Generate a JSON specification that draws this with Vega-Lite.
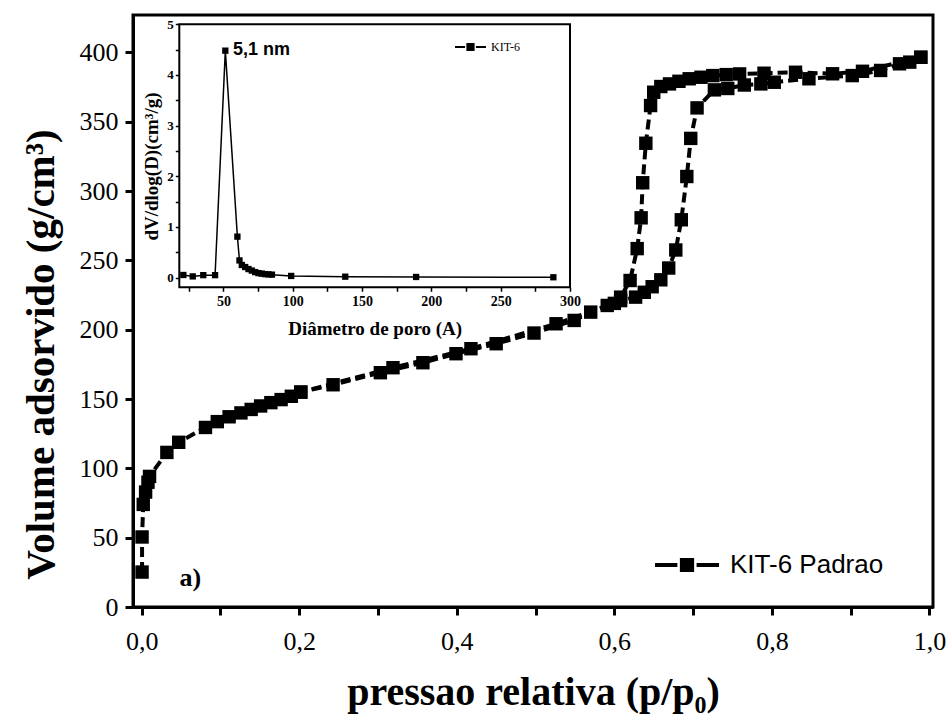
{
  "$schema": "https://vega.github.io/schema/vega-lite/v6.json",
  "width": 800,
  "height": 592,
  "autosize": "none",
  "padding": {"left": 133, "top": 15, "right": 17, "bottom": 113},
  "background": "white",
  "config": {
    "view": {"stroke": "black", "strokeWidth": 3},
    "axis": {"grid": false, "domainColor": "black", "tickColor": "black", "labelColor": "black", "titleColor": "black", "labelOverlap": false, "labelFlush": false}
  },
  "datasets": {
    "iso": [
      {"b": "ads", "i": 1, "p": 0.0005, "v": 25.2},
      {"b": "ads", "i": 2, "p": 0.0005, "v": 50.5},
      {"b": "ads", "i": 3, "p": 0.002, "v": 74},
      {"b": "ads", "i": 4, "p": 0.005, "v": 82.9},
      {"b": "ads", "i": 5, "p": 0.008, "v": 90},
      {"b": "ads", "i": 6, "p": 0.01, "v": 94.2},
      {"b": "ads", "i": 7, "p": 0.032, "v": 111.5},
      {"b": "ads", "i": 8, "p": 0.047, "v": 118.8},
      {"b": "ads", "i": 9, "p": 0.081, "v": 129.5},
      {"b": "ads", "i": 10, "p": 0.096, "v": 133.7},
      {"b": "ads", "i": 11, "p": 0.111, "v": 137.2},
      {"b": "ads", "i": 12, "p": 0.126, "v": 140},
      {"b": "ads", "i": 13, "p": 0.139, "v": 142.5},
      {"b": "ads", "i": 14, "p": 0.151, "v": 145},
      {"b": "ads", "i": 15, "p": 0.164, "v": 147.4},
      {"b": "ads", "i": 16, "p": 0.177, "v": 149.6},
      {"b": "ads", "i": 17, "p": 0.19, "v": 152},
      {"b": "ads", "i": 18, "p": 0.202, "v": 155},
      {"b": "ads", "i": 19, "p": 0.243, "v": 160.3},
      {"b": "ads", "i": 20, "p": 0.303, "v": 169},
      {"b": "ads", "i": 21, "p": 0.357, "v": 176.2},
      {"b": "ads", "i": 22, "p": 0.399, "v": 182.7},
      {"b": "ads", "i": 23, "p": 0.45, "v": 189.9},
      {"b": "ads", "i": 24, "p": 0.498, "v": 197.6},
      {"b": "ads", "i": 25, "p": 0.549, "v": 206.7},
      {"b": "ads", "i": 26, "p": 0.57, "v": 212.7},
      {"b": "ads", "i": 27, "p": 0.591, "v": 217.5},
      {"b": "ads", "i": 28, "p": 0.608, "v": 221},
      {"b": "ads", "i": 29, "p": 0.627, "v": 223.5},
      {"b": "ads", "i": 30, "p": 0.638, "v": 227},
      {"b": "ads", "i": 31, "p": 0.648, "v": 231},
      {"b": "ads", "i": 32, "p": 0.659, "v": 236},
      {"b": "ads", "i": 33, "p": 0.669, "v": 244.5},
      {"b": "ads", "i": 34, "p": 0.678, "v": 257.5},
      {"b": "ads", "i": 35, "p": 0.685, "v": 279.3},
      {"b": "ads", "i": 36, "p": 0.692, "v": 310.5},
      {"b": "ads", "i": 37, "p": 0.697, "v": 338},
      {"b": "ads", "i": 38, "p": 0.705, "v": 360},
      {"b": "ads", "i": 39, "p": 0.727, "v": 373},
      {"b": "ads", "i": 40, "p": 0.744, "v": 374},
      {"b": "ads", "i": 41, "p": 0.765, "v": 376.5},
      {"b": "ads", "i": 42, "p": 0.786, "v": 377.3},
      {"b": "ads", "i": 43, "p": 0.803, "v": 378.5},
      {"b": "ads", "i": 44, "p": 0.847, "v": 381},
      {"b": "ads", "i": 45, "p": 0.902, "v": 383.3},
      {"b": "ads", "i": 46, "p": 0.938, "v": 387},
      {"b": "ads", "i": 47, "p": 0.962, "v": 391.8},
      {"b": "ads", "i": 48, "p": 0.975, "v": 393},
      {"b": "ads", "i": 49, "p": 0.989, "v": 396.5},
      {"b": "des", "i": 1, "p": 0.989, "v": 396.5},
      {"b": "des", "i": 2, "p": 0.915, "v": 386.4},
      {"b": "des", "i": 3, "p": 0.877, "v": 384.6},
      {"b": "des", "i": 4, "p": 0.83, "v": 385.7},
      {"b": "des", "i": 5, "p": 0.79, "v": 385},
      {"b": "des", "i": 6, "p": 0.759, "v": 384.5},
      {"b": "des", "i": 7, "p": 0.742, "v": 384},
      {"b": "des", "i": 8, "p": 0.725, "v": 383.3},
      {"b": "des", "i": 9, "p": 0.71, "v": 382.1},
      {"b": "des", "i": 10, "p": 0.695, "v": 381},
      {"b": "des", "i": 11, "p": 0.682, "v": 379.2},
      {"b": "des", "i": 12, "p": 0.67, "v": 377.3},
      {"b": "des", "i": 13, "p": 0.659, "v": 375.4},
      {"b": "des", "i": 14, "p": 0.65, "v": 371.3},
      {"b": "des", "i": 15, "p": 0.646, "v": 361.7},
      {"b": "des", "i": 16, "p": 0.64, "v": 334.5},
      {"b": "des", "i": 17, "p": 0.636, "v": 306},
      {"b": "des", "i": 18, "p": 0.634, "v": 280.7},
      {"b": "des", "i": 19, "p": 0.629, "v": 258.5},
      {"b": "des", "i": 20, "p": 0.62, "v": 235.5},
      {"b": "des", "i": 21, "p": 0.608, "v": 223.5},
      {"b": "des", "i": 22, "p": 0.6, "v": 219},
      {"b": "des", "i": 23, "p": 0.526, "v": 204.3},
      {"b": "des", "i": 24, "p": 0.418, "v": 186.3},
      {"b": "des", "i": 25, "p": 0.319, "v": 172.6},
      {"b": "des", "i": 26, "p": 0.202, "v": 155}
    ],
    "psd": [
      {"d": 21.1, "dv": 0.053},
      {"d": 27.9, "dv": 0.025},
      {"d": 35.5, "dv": 0.05},
      {"d": 44, "dv": 0.05},
      {"d": 51.4, "dv": 4.48},
      {"d": 60.1, "dv": 0.81},
      {"d": 61.6, "dv": 0.34},
      {"d": 63.3, "dv": 0.25},
      {"d": 65.7, "dv": 0.21},
      {"d": 68.1, "dv": 0.17},
      {"d": 70.5, "dv": 0.14},
      {"d": 72.9, "dv": 0.11},
      {"d": 75.3, "dv": 0.09},
      {"d": 77.7, "dv": 0.08},
      {"d": 80.1, "dv": 0.07},
      {"d": 82.5, "dv": 0.065},
      {"d": 85, "dv": 0.06},
      {"d": 98.9, "dv": 0.034},
      {"d": 137.9, "dv": 0.02},
      {"d": 189, "dv": 0.014},
      {"d": 288, "dv": 0.008}
    ]
  },
  "layer": [
    {
      "data": {"name": "iso"},
      "layer": [
        {
          "mark": {"type": "line", "color": "black", "strokeWidth": 4, "strokeDash": [10, 5]},
          "encoding": {
            "x": {
              "field": "p", "type": "quantitative",
              "scale": {"domain": [-0.011, 1.0045], "nice": false, "zero": false},
              "axis": {
                "values": [0, 0.1, 0.2, 0.3, 0.4, 0.5, 0.6, 0.7, 0.8, 0.9, 1.0],
                "labelExpr": "round(datum.value*10) % 2 == 0 ? replace(format(datum.value, '.1f'), '.', ',') : ''",
                "tickSize": 8, "tickWidth": 3, "domainWidth": 3,
                "labelFont": "Liberation Serif", "labelFontSize": 26, "labelPadding": 13,
                "title": "pressao relativa (p/p₀)",
                "titleFont": "Liberation Serif", "titleFontSize": 40, "titleFontWeight": "bold",
                "titleY": 85, "titleBaseline": "middle"
              }
            },
            "y": {
              "field": "v", "type": "quantitative",
              "scale": {"domain": [0, 427], "nice": false},
              "axis": {
                "values": [0, 25, 50, 75, 100, 125, 150, 175, 200, 225, 250, 275, 300, 325, 350, 375, 400],
                "labelExpr": "datum.value % 50 == 0 ? datum.label : ''",
                "tickSize": 8, "tickWidth": 3, "domainWidth": 3,
                "labelFont": "Liberation Serif", "labelFontSize": 26, "labelPadding": 7,
                "title": "Volume adsorvido (g/cm³)",
                "titleFont": "Liberation Serif", "titleFontSize": 41, "titleFontWeight": "bold",
                "titleX": -92, "titleY": 339, "titleBaseline": "middle", "titleAngle": 270
              }
            },
            "detail": {"field": "b"},
            "order": {"field": "i", "type": "quantitative"}
          }
        },
        {
          "mark": {"type": "point", "shape": "square", "filled": true, "size": 180, "opacity": 1},
          "encoding": {
            "x": {"field": "p", "type": "quantitative"},
            "y": {"field": "v", "type": "quantitative"},
            "color": {
              "datum": "KIT-6 Padrao", "type": "nominal",
              "scale": {"range": ["black"]},
              "legend": {
                "orient": "none", "legendX": 520, "legendY": 516, "title": null, "padding": 0,
                "symbolType": "M-1,0H-0.3M0.3,0H1M-0.16,-0.16H0.16V0.16H-0.16Z",
                "symbolSize": 4096, "symbolStrokeWidth": 4, "symbolStrokeColor": "black", "symbolFillColor": "black",
                "labelFont": "Liberation Sans", "labelFontSize": 26, "labelOffset": 9, "labelColor": "black", "labelLimit": 400,
                "encode": {"symbols": {"update": {"shape": {"value": "M-1,0H-0.3M0.3,0H1M-0.16,-0.16H0.16V0.16H-0.16Z"}, "size": {"value": 4096}, "fill": {"value": "black"}, "stroke": {"value": "black"}, "strokeWidth": {"value": 4}, "strokeOpacity": {"value": 1}, "fillOpacity": {"value": 1}, "opacity": {"value": 1}}}}
              }
            }
          }
        },
        {
          "data": {"values": [{"p": 0.048, "v": 20.7, "t": "a)"}]},
          "mark": {"type": "text", "font": "Liberation Serif", "fontWeight": "bold", "fontSize": 26, "align": "left", "baseline": "middle", "color": "black"},
          "encoding": {
            "x": {"field": "p", "type": "quantitative"},
            "y": {"field": "v", "type": "quantitative"},
            "text": {"field": "t"}
          }
        }
      ]
    },
    {
      "layer": [
        {
          "data": {"values": [{"x1": 18.2, "x2": 300, "y1": -0.19, "y2": 5}]},
          "mark": {"type": "rect", "fill": "white", "stroke": "black", "strokeWidth": 2},
          "encoding": {
            "x": {
              "field": "x1", "type": "quantitative",
              "scale": {"domain": [18.2, 300], "range": [46.3, 437], "nice": false, "zero": false},
              "axis": {
                "orient": "bottom", "offset": -319.7,
                "values": [25, 50, 75, 100, 125, 150, 175, 200, 225, 250, 275, 300],
                "labelExpr": "datum.value % 50 == 0 ? datum.label : ''",
                "domain": false, "tickSize": 4, "tickWidth": 1.5,
                "labelFont": "Liberation Serif", "labelFontWeight": "bold", "labelFontSize": 14, "labelPadding": 3,
                "title": "Diâmetro de poro (A)",
                "titleFont": "Liberation Serif", "titleFontSize": 19, "titleFontWeight": "bold",
                "titleY": 40.7, "titleBaseline": "middle"
              }
            },
            "x2": {"field": "x2"},
            "y": {
              "field": "y1", "type": "quantitative",
              "scale": {"domain": [-0.19, 5], "range": [272.3, 9.3], "nice": false, "zero": false},
              "axis": {
                "orient": "left", "offset": -46.3,
                "values": [0, 0.5, 1, 1.5, 2, 2.5, 3, 3.5, 4, 4.5, 5],
                "labelExpr": "datum.value % 1 == 0 ? format(datum.value, 'd') : ''",
                "domain": false, "tickSize": 4, "tickWidth": 1.5,
                "labelFont": "Liberation Serif", "labelFontWeight": "bold", "labelFontSize": 13, "labelPadding": 2,
                "title": "dV/dlog(D)(cm³/g)",
                "titleFont": "Liberation Serif", "titleFontSize": 19, "titleFontWeight": "bold",
                "titleX": -28, "titleY": 151, "titleBaseline": "middle", "titleAngle": 270
              }
            },
            "y2": {"field": "y2"}
          }
        },
        {
          "data": {"name": "psd"},
          "mark": {"type": "line", "color": "black", "strokeWidth": 1.5},
          "encoding": {
            "x": {"field": "d", "type": "quantitative"},
            "y": {"field": "dv", "type": "quantitative"}
          }
        },
        {
          "data": {"name": "psd"},
          "mark": {"type": "point", "shape": "square", "filled": true, "size": 40, "opacity": 1},
          "encoding": {
            "x": {"field": "d", "type": "quantitative"},
            "y": {"field": "dv", "type": "quantitative"},
            "color": {
              "datum": "KIT-6", "type": "nominal",
              "scale": {"range": ["black"]},
              "legend": {
                "orient": "none", "legendX": 321, "legendY": 15.5, "title": null, "padding": 0,
                "symbolType": "M-1,0H-0.35M0.35,0H1M-0.2,-0.2H0.2V0.2H-0.2Z",
                "symbolSize": 961, "symbolStrokeWidth": 2, "symbolStrokeColor": "black", "symbolFillColor": "black",
                "labelFont": "Liberation Serif", "labelFontSize": 12, "labelOffset": 4, "labelColor": "black",
                "encode": {"symbols": {"update": {"shape": {"value": "M-1,0H-0.35M0.35,0H1M-0.2,-0.2H0.2V0.2H-0.2Z"}, "size": {"value": 961}, "fill": {"value": "black"}, "stroke": {"value": "black"}, "strokeWidth": {"value": 2}, "strokeOpacity": {"value": 1}, "fillOpacity": {"value": 1}, "opacity": {"value": 1}}}}
              }
            }
          }
        },
        {
          "data": {"values": [{"d": 57, "dv": 4.49, "t": "5,1 nm"}]},
          "mark": {"type": "text", "font": "Liberation Sans", "fontWeight": "bold", "fontSize": 18, "align": "left", "baseline": "middle", "color": "black"},
          "encoding": {
            "x": {"field": "d", "type": "quantitative"},
            "y": {"field": "dv", "type": "quantitative"},
            "text": {"field": "t"}
          }
        }
      ]
    }
  ],
  "resolve": {
    "scale": {"x": "independent", "y": "independent", "color": "independent"},
    "axis": {"x": "independent", "y": "independent"},
    "legend": {"color": "independent"}
  }
}
